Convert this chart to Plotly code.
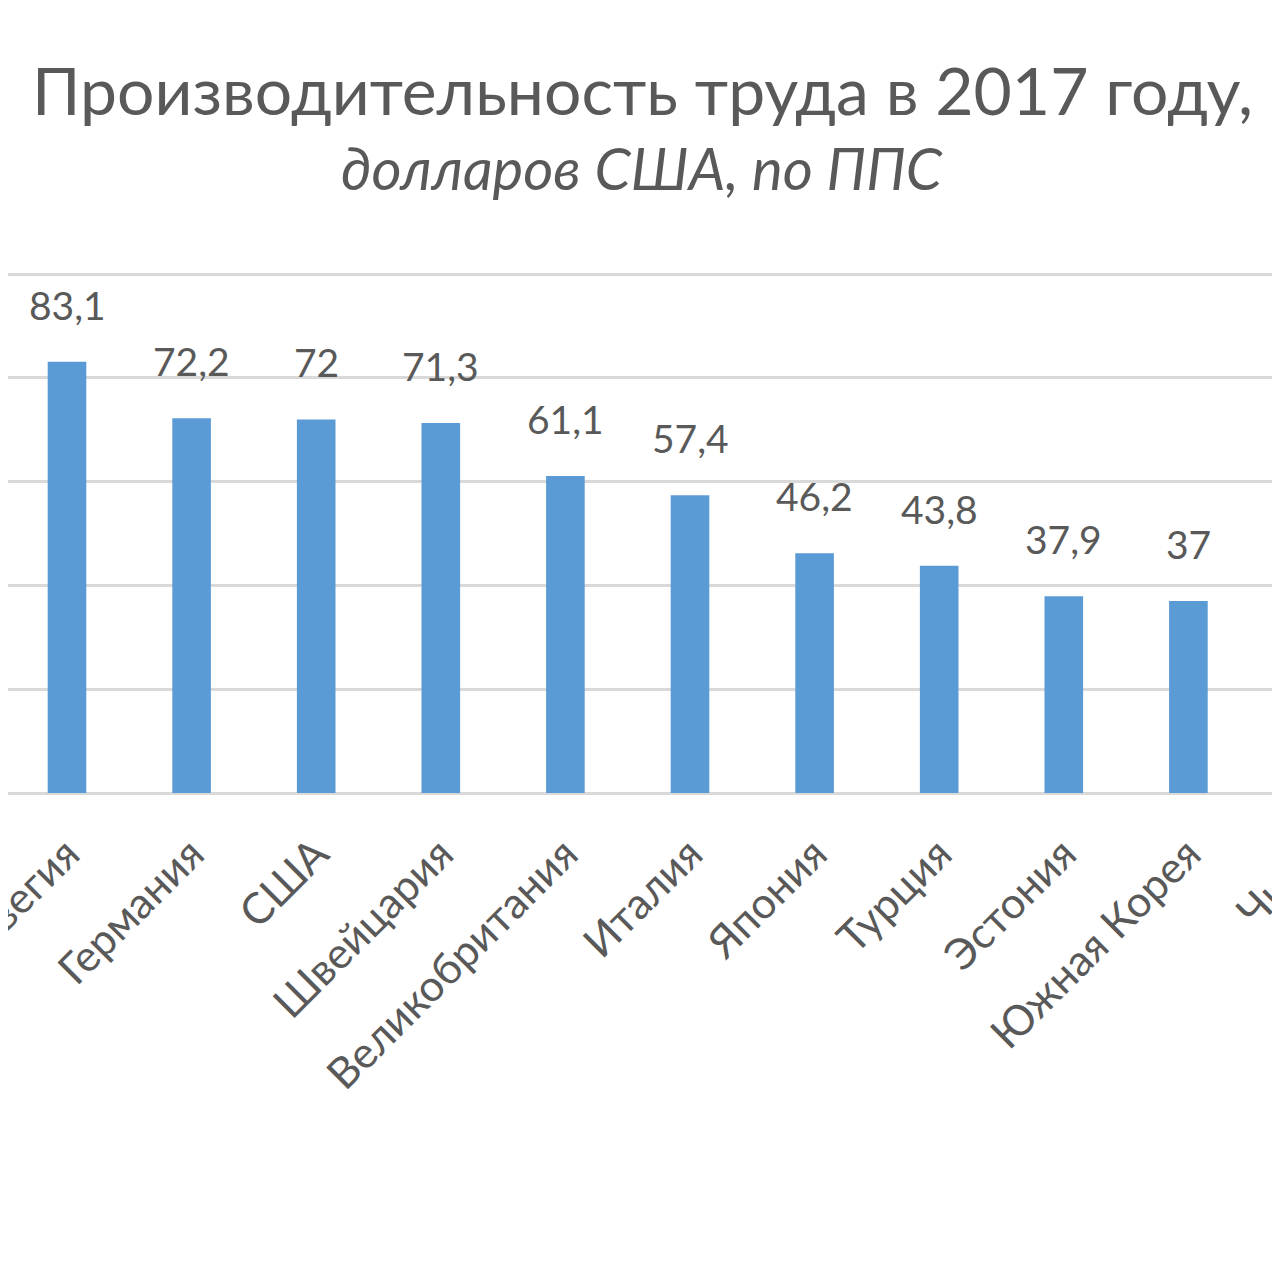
import plotly.graph_objects as go

countries = ["Норвегия", "Германия", "США", "Швейцария", "Великобритания",
             "Италия", "Япония", "Турция", "Эстония", "Южная Корея", "Чили"]
values = [83.1, 72.2, 72.0, 71.3, 61.1, 57.4, 46.2, 43.8, 37.9, 37.0, 27.3]
labels = ["83,1", "72,2", "72", "71,3", "61,1", "57,4", "46,2", "43,8", "37,9", "37", "27,3"]

title_line1 = "Производительность труда в 2017 году,"
title_line2 = "долларов США, по ППС"

FONT = "Lato"
TEXT = "#595959"
W, H = 1420, 1280
OFF = 8  # page body margin
step = 124.6
x0 = -(67 - OFF) / step
x1 = x0 + W / step

YMAX = 100.6
plot_top, plot_bot = 274 - OFF - 3, 793 - OFF

fig = go.Figure()
fig.add_trace(go.Bar(
    x=list(range(len(countries))), y=values,
    marker=dict(color="#5B9BD5", line=dict(width=0)),
    width=0.31, cliponaxis=False, hoverinfo="skip",
))
for i, (v, t) in enumerate(zip(values, labels)):
    fig.add_annotation(x=i, y=v, text=t, showarrow=False, yanchor="bottom",
                       yshift=32, font=dict(family=FONT, size=39, color=TEXT))

def py(ypx):
    return (plot_bot - (ypx - OFF)) / (plot_bot - plot_top)

fig.add_annotation(xref="paper", yref="paper", x=(642 - OFF) / W, y=py(90), text=title_line1,
                   showarrow=False, xanchor="center", yanchor="middle",
                   font=dict(family=FONT, size=66, color=TEXT))
fig.add_annotation(xref="paper", yref="paper", x=(642 - OFF) / W, y=py(168), text="<i>" + title_line2 + "</i>",
                   showarrow=False, xanchor="center", yanchor="middle",
                   font=dict(family=FONT, size=58, color=TEXT))

fig.update_layout(
    width=W, height=H,
    margin=dict(l=0, r=0, t=plot_top, b=H - plot_bot, pad=0, autoexpand=False),
    paper_bgcolor="white", plot_bgcolor="white",
    showlegend=False,
    xaxis=dict(range=[x0, x1], tickmode="array", tickvals=list(range(len(countries))),
               ticktext=countries, tickangle=-45, showgrid=False, zeroline=False,
               showline=False, ticks="", ticklen=0, ticklabeloverflow="allow",
               ticklabelstandoff=26, automargin=False,
               tickfont=dict(family=FONT, size=43, color=TEXT)),
    yaxis=dict(range=[0, YMAX], tickmode="array", tickvals=[0, 20, 40, 60, 80, 100],
               showgrid=True, gridcolor="#D9D9D9", gridwidth=3, automargin=False,
               zeroline=True, zerolinecolor="#D9D9D9", zerolinewidth=3,
               showticklabels=False, showline=False, ticks=""),
)

fig.write_html("out.html")
